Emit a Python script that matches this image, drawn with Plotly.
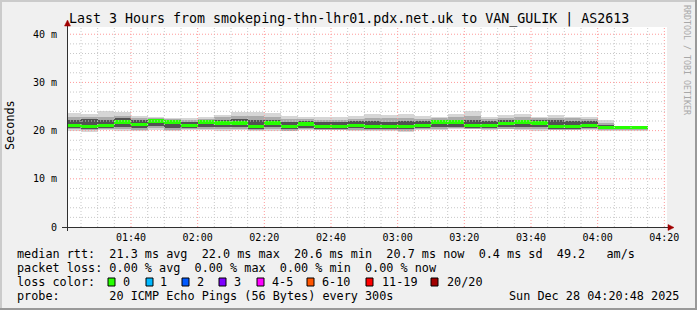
import plotly.graph_objects as go
import pandas as pd

# ---------------- data ----------------
TITLE = "Last 3 Hours from smokeping-thn-lhr01.pdx.net.uk to VAN_GULIK | AS2613"
step_end = pd.date_range("2025-12-28 01:25:00", "2025-12-28 04:15:00", freq="5min")

median_ms = [21.0, 20.85, 21.0, 21.8, 21.3, 22.0, 21.8, 21.0, 21.8, 21.6,
             21.6, 20.9, 21.6, 20.8, 21.4, 20.9, 20.9, 21.0, 20.9, 20.8,
             20.8, 21.0, 21.8, 21.8, 21.0, 21.0, 21.5, 21.8, 21.6, 20.9,
             20.8, 21.0, 20.6, 20.6, 20.7]
smoke_hi = [23.6, 23.4, 24.0, 23.8, 23.0, 22.8, 22.7, 22.7, 22.8, 23.3,
            23.8, 23.8, 23.7, 23.0, 22.8, 22.8, 22.8, 23.0, 23.4, 23.2,
            23.4, 23.0, 22.9, 23.4, 24.0, 22.9, 23.3, 23.4, 22.9, 23.3,
            22.9, 22.9, 22.1, 20.95, 20.95]
smoke_p90 = [22.9, 22.8, 22.9, 23.0, 22.7, 22.6, 22.5, 22.3, 22.4, 22.8,
             23.0, 23.0, 22.9, 22.5, 22.4, 22.3, 22.3, 22.5, 22.6, 22.6,
             22.7, 22.5, 22.6, 22.8, 23.1, 22.5, 22.7, 22.8, 22.6, 22.7,
             22.6, 22.5, 21.6, 20.95, 20.95]
smoke_p75 = [22.3, 22.5, 22.2, 22.6, 22.2, 22.3, 22.2, 21.8, 22.1, 22.3,
             22.4, 22.2, 22.2, 21.8, 22.0, 21.8, 21.8, 21.9, 21.9, 21.8,
             21.9, 21.9, 22.3, 22.3, 22.3, 22.0, 22.2, 22.3, 22.2, 22.1,
             22.0, 21.9, 21.2, 20.9, 20.9]
smoke_p25 = [20.5, 20.3, 20.5, 20.7, 20.5, 20.9, 20.5, 20.5, 20.7, 20.7,
             20.8, 20.4, 20.7, 20.3, 20.6, 20.4, 20.4, 20.5, 20.4, 20.3,
             20.3, 20.5, 20.8, 20.8, 20.6, 20.5, 20.7, 20.8, 20.7, 20.4,
             20.3, 20.5, 20.3, 20.4, 20.4]
smoke_p10 = [20.3, 20.1, 20.3, 20.3, 20.2, 20.5, 20.2, 20.3, 20.4, 20.3,
             20.4, 20.2, 20.3, 20.0, 20.3, 20.2, 20.2, 20.2, 20.2, 20.1,
             20.0, 20.3, 20.4, 20.5, 20.4, 20.3, 20.4, 20.4, 20.3, 20.2,
             20.2, 20.3, 20.1, 20.2, 20.2]
smoke_lo = [20.0, 19.8, 20.2, 20.0, 19.9, 20.2, 20.0, 20.2, 20.2, 20.0,
            20.2, 20.0, 20.0, 19.85, 20.2, 20.2, 20.2, 20.0, 20.0, 19.85,
            19.7, 20.2, 20.2, 20.25, 20.25, 20.2, 20.25, 20.2, 20.0, 20.2,
            20.2, 20.2, 19.95, 19.95, 19.95]

y_tick_vals = [0, 10, 20, 30, 40]
y_tick_text = ["0", "10 m", "20 m", "30 m", "40 m"]

loss_labels = ["0", "1", "2", "3", "4-5", "6-10", "11-19", "20/20"]
loss_colors = ["#26ff00", "#00b8ff", "#0059ff", "#7e00ff", "#ff00ff", "#ff5500", "#ff0000", "#a10000"]

row_rtt = "median rtt:  21.3 ms avg  22.0 ms max  20.6 ms min  20.7 ms now  0.4 ms sd  49.2   am/s"
row_loss = "packet loss: 0.00 % avg  0.00 % max  0.00 % min  0.00 % now"
row_probe = "probe:       20 ICMP Echo Pings (56 Bytes) every 300s"
stamp = "Sun Dec 28 04:20:48 2025"

# ---------------- layout helpers ----------------
W, H = 697, 310
L, R, T, B = 67, 30, 27, 83
PW, PH = W - L - R, H - T - B
FONT = "DejaVu Sans Mono"
X0 = pd.Timestamp("2025-12-28 01:20:48")
X1 = pd.Timestamp("2025-12-28 04:20:48")


def xp(px):
    return (px - L) / PW


def yp(py):
    return (H - B - py) / PH


def nb(s):
    return s.replace(" ", "\u00a0")


xc = step_end - pd.Timedelta(seconds=150)
WIDTH_MS = 300 * 1000

fig = go.Figure()


def band(lo, hi, color):
    fig.add_trace(go.Bar(
        x=xc, base=lo, y=[h - l for h, l in zip(hi, lo)], width=WIDTH_MS,
        marker=dict(color=color, line=dict(width=0)), hoverinfo="skip", showlegend=False))


band(smoke_lo, smoke_hi, "#d6d6d6")
band(smoke_p10, smoke_p90, "#ababab")
band(smoke_p25, smoke_p75, "#525252")
fig.add_trace(go.Bar(
    x=xc, base=[m - 0.34 for m in median_ms], y=[0.68] * len(median_ms), width=WIDTH_MS,
    marker=dict(color=loss_colors[0], line=dict(width=0)), hoverinfo="skip", showlegend=False))

shapes = []
GRID = "#c8c8c8"
MGRID = "#ff9a9a"
# vertical grid
t = pd.Timestamp("2025-12-28 01:25:00")
while t <= X1:
    major = (t.minute % 20 == 0)
    shapes.append(dict(type="line", xref="x", yref="paper", x0=t, x1=t, y0=0, y1=1,
                       line=dict(color=MGRID if major else GRID, width=1, dash="1px,2px"), layer="above"))
    t += pd.Timedelta(minutes=5)
# horizontal grid
for v in range(2, 42, 2):
    major = (v % 10 == 0)
    shapes.append(dict(type="line", xref="paper", yref="y", x0=0, x1=1.0, y0=v, y1=v,
                       line=dict(color=MGRID if major else GRID, width=1, dash="1px,2px"), layer="above"))

AX = "#303030"
ARROW = "#a00000"
# axes
shapes.append(dict(type="line", xref="paper", yref="paper", x0=xp(62), x1=xp(670), y0=yp(227.5), y1=yp(227.5),
                   line=dict(color=AX, width=1), layer="above"))
shapes.append(dict(type="line", xref="paper", yref="paper", x0=xp(67.5), x1=xp(67.5), y0=yp(231), y1=yp(24),
                   line=dict(color=AX, width=1), layer="above"))
# arrows
shapes.append(dict(type="path", xref="paper", yref="paper",
                   path=f"M {xp(668)},{yp(224.5)} L {xp(674)},{yp(227.5)} L {xp(668)},{yp(230.5)} Z",
                   fillcolor=ARROW, line=dict(color=ARROW, width=0.5), layer="above"))
shapes.append(dict(type="path", xref="paper", yref="paper",
                   path=f"M {xp(64.5)},{yp(26)} L {xp(67.5)},{yp(20)} L {xp(70.5)},{yp(26)} Z",
                   fillcolor=ARROW, line=dict(color=ARROW, width=0.5), layer="above"))
# border (3D shade)
shapes.append(dict(type="rect", xref="paper", yref="paper", x0=xp(0), x1=xp(W), y0=yp(0), y1=yp(2),
                   fillcolor="#cbcbcb", line=dict(width=0)))
shapes.append(dict(type="rect", xref="paper", yref="paper", x0=xp(0), x1=xp(2), y0=yp(0), y1=yp(H),
                   fillcolor="#cbcbcb", line=dict(width=0)))
shapes.append(dict(type="rect", xref="paper", yref="paper", x0=xp(0), x1=xp(W), y0=yp(H - 2), y1=yp(H),
                   fillcolor="#999999", line=dict(width=0)))
shapes.append(dict(type="rect", xref="paper", yref="paper", x0=xp(W - 2), x1=xp(W), y0=yp(0), y1=yp(H),
                   fillcolor="#999999", line=dict(width=0)))

# legend swatches
sw_x = [108, 146, 182, 219, 257, 307, 366, 431]
lab_x = [121, 158, 195, 232, 270, 320, 380, 445]
for sx, c in zip(sw_x, loss_colors):
    shapes.append(dict(type="rect", xref="paper", yref="paper", x0=xp(sx), x1=xp(sx + 7),
                       y0=yp(286), y1=yp(278), fillcolor=c, line=dict(color="#000000", width=1)))

ann = []


def text(s, px, py, size=11.8, xanchor="left", color="#000000", angle=0):
    ann.append(dict(text=nb(s), x=xp(px), y=yp(py), xref="paper", yref="paper", showarrow=False,
                    xanchor=xanchor, yanchor="middle", textangle=angle,
                    font=dict(family=FONT, size=size, color=color)))


text(TITLE, W / 2, 19, size=13.3, xanchor="center")
text(row_rtt, 15, 254)
text(row_loss, 15, 268)
text("loss color:", 15, 282)
for lx, lab in zip(lab_x, loss_labels):
    text(lab, lx, 282)
text(row_probe, 15, 296)
text(stamp, 681, 296, xanchor="right")
text("Seconds", 10, 125, xanchor="center", angle=-90)
text("RRDTOOL / TOBI OETIKER", 687, 60, size=8.3, xanchor="center", color="#a8a8a8", angle=90)

fig.update_layout(
    width=W, height=H, margin=dict(l=L, r=R, t=T, b=B, pad=0),
    paper_bgcolor="#f0f0f0", plot_bgcolor="#ffffff",
    barmode="overlay", bargap=0, showlegend=False,
    shapes=shapes, annotations=ann,
    font=dict(family=FONT, size=10, color="#000000"),
)
fig.update_xaxes(
    type="date", range=[X0, X1], tickformat="%H:%M",
    tick0="2025-12-28 00:00:00", dtick=20 * 60 * 1000,
    showgrid=False, zeroline=False, showline=False,
    ticks="outside", ticklen=1, tickcolor="rgba(255,255,255,0)",
    tickfont=dict(family=FONT, size=10, color="#000000"),
)
fig.update_yaxes(
    range=[0, 41.5], tickvals=y_tick_vals, ticktext=y_tick_text,
    showgrid=False, zeroline=False, showline=False,
    ticks="outside", ticklen=7, tickcolor="rgba(255,255,255,0)",
    tickfont=dict(family=FONT, size=10, color="#000000"),
)

fig.write_html("out.html")
